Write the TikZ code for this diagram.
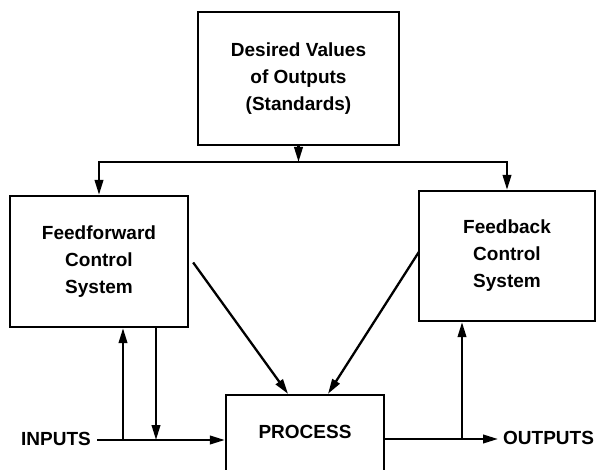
\documentclass[tikz,border=0pt]{standalone}
\usepackage{fontspec}
\setmainfont{Liberation Sans}
\usetikzlibrary{arrows.meta}
\begin{document}
\begin{tikzpicture}[x=1pt,y=-1pt,
  every node/.style={font=\fontsize{19}{27}\selectfont\bfseries},
  blockbox/.style={draw,line width=2.3pt,align=center,inner sep=0pt},
  flow/.style={line width=2.3pt,-{Triangle[length=15pt,width=8.5pt]}}]
\useasboundingbox (0,0) rectangle (602,470);

% blocks
\node[blockbox,minimum width=201pt,minimum height=133pt] (des) at (298.5,78.5)
  {Desired Values\\of Outputs\\(Standards)};
\node[blockbox,minimum width=178pt,minimum height=131pt] (ff) at (99,261.5)
  {Feedforward\\Control\\System};
\node[blockbox,minimum width=176pt,minimum height=130pt] (fb) at (507,256)
  {Feedback\\Control\\System};
\node[blockbox,minimum width=158pt,minimum height=82pt] (proc) at (305,436) {};
\node (proctext) at (305,432) {PROCESS};

% terminals
\node[anchor=east,inner sep=0pt] (in) at (91,439) {INPUTS};
\node[anchor=west,inner sep=0pt] (out) at (503,438) {OUTPUTS};

% standards distribution
\coordinate (j) at (des.south |- 0,162);
\draw[flow] (des.south) -- (j);
\draw[flow] (j) -| (ff.north);
\draw[flow] (j) -| (fb.north);

% input line with feedforward taps
\coordinate (inl) at ([xshift=6pt]in.east);
\coordinate (a1) at (123,440);
\coordinate (a2) at (156,440);
\draw[flow] (inl |- a1) -- (a1 -| proc.west);
\draw[flow] (a1) -- (a1 |- ff.south);
\draw[flow] (a2 |- ff.south) -- (a2);

% control actions on the process
\draw[flow] ([xshift=4pt,yshift=-1pt]ff.east) -- ([xshift=-17pt]proc.north);
\draw[flow] ([xshift=1pt,yshift=4pt]fb.west) -- ([xshift=23pt]proc.north);

% output line with feedback tap
\coordinate (b1) at (462,439);
\draw[flow] (proc.east |- b1) -- ([xshift=-5pt]out.west |- b1);
\draw[flow] (b1) -- (b1 |- fb.south);
\end{tikzpicture}
\end{document}
